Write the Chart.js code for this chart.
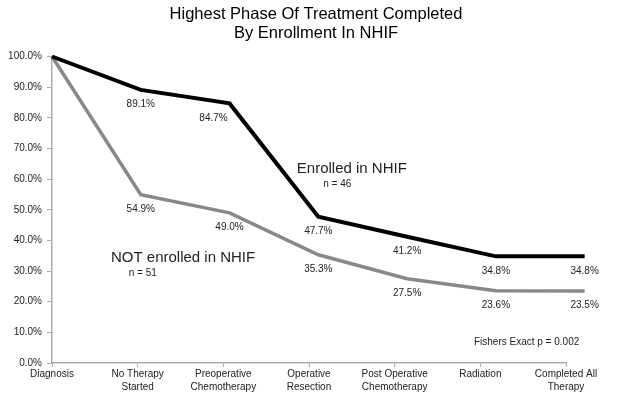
<!DOCTYPE html>
<html>
<head>
<meta charset="utf-8">
<script src="https://cdn.jsdelivr.net/npm/chart.js@4.4.1/dist/chart.umd.min.js"></script>
<style>
  html, body { margin: 0; padding: 0; background: #fff; }
  #wrap { width: 624px; height: 403px; }
</style>
</head>
<body>
<div id="wrap"><canvas id="grafica"></canvas></div>
<script>
// datos
var categorias = ['Diagnosis', ['No Therapy', 'Started'], ['Preoperative', 'Chemotherapy'], ['Operative', 'Resection'], ['Post Operative', 'Chemotherapy'], 'Radiation', ['Completed All', 'Therapy']];
var inscritos = [100, 89.1, 84.7, 47.7, 41.2, 34.8, 34.8];
var noInscritos = [100, 54.9, 49.0, 35.3, 27.5, 23.6, 23.5];
var yTicks = [0, 10, 20, 30, 40, 50, 60, 70, 80, 90, 100];
var titulo = ['Highest Phase Of Treatment Completed', 'By Enrollment In NHIF'];

// textos sueltos dentro del grafico (x en categorias, y en %)
var notas = [
    { texto: 'Enrolled in NHIF', x: 3.50, y: 63.4, size: 15 },
    { texto: 'n = 46', x: 3.33, y: 58.2, size: 10 },
    { texto: 'NOT enrolled in NHIF', x: 1.53, y: 34.4, size: 15 },
    { texto: 'n = 51', x: 1.06, y: 29.2, size: 10 },
    { texto: 'Fishers Exact p = 0.002', x: 5.54, y: 6.7, size: 10 }
];
// corrimiento horizontal de las etiquetas (px)
var corrimiento = [0, 0, -16, 0, 0, 0, 0];

var fuente = "'Liberation Sans', Arial, Helvetica, sans-serif";

function puntos(valores) {
    return valores.map(function (v, i) { return { x: i, y: v }; });
}

const etiquetas = {
    id: 'etiquetas',
    afterDatasetsDraw(chart) {
        const ctx = chart.ctx;
        ctx.save();
        ctx.fillStyle = '#222';
        ctx.textAlign = 'center';
        ctx.textBaseline = 'middle';
        ctx.font = '10px ' + fuente;
        chart.data.datasets.forEach(function (ds, d) {
            var meta = chart.getDatasetMeta(d);
            meta.data.forEach(function (p, i) {
                if (i == 0) return;
                ctx.fillText(ds.data[i].y.toFixed(1) + '%', p.x + corrimiento[i] * (d == 0 ? 1 : 0), p.y + 14.5);
            });
        });
        var sx = chart.scales.x, sy = chart.scales.y;
        notas.forEach(function (n) {
            ctx.font = n.size + 'px ' + fuente;
            ctx.fillText(n.texto, sx.getPixelForValue(n.x), sy.getPixelForValue(n.y));
        });
        // titulo centrado en todo el lienzo, no solo en el area del grafico
        ctx.fillStyle = '#000';
        ctx.font = '16.5px ' + fuente;
        for (var t = 0; t < titulo.length; t++) {
            ctx.fillText(titulo[t], chart.width / 2 + 4, 14 + t * 19);
        }
        ctx.restore();
    }
};

new Chart(document.getElementById('grafica'), {
    type: 'line',
    data: {
        datasets: [{
            label: 'Enrolled in NHIF',
            data: puntos(inscritos),
            xAxisID: 'xd',
            borderColor: '#000',
            borderWidth: 4,
            pointRadius: 0,
            tension: 0,
            clip: false
        }, {
            label: 'NOT enrolled in NHIF',
            data: puntos(noInscritos),
            xAxisID: 'xd',
            borderColor: '#888',
            borderWidth: 3.5,
            pointRadius: 0,
            tension: 0,
            clip: false
        }]
    },
    options: {
        responsive: true,
        maintainAspectRatio: false,
        animation: false,
        layout: { padding: { left: 0, right: 58, top: 56.5, bottom: 0 } },
        plugins: {
            legend: { display: false },
            tooltip: { enabled: false },
            title: { display: false }
        },
        scales: {
            x: {
                type: 'linear',
                min: 0,
                max: 6,
                afterFit: function (s) { s.height = 40; },
                afterBuildTicks: function (s) { s.ticks = categorias.map(function (c, i) { return { value: i }; }); },
                ticks: {
                    callback: function (v) { return categorias[v]; },
                    color: '#222',
                    font: { family: fuente, size: 10, lineHeight: 1.3 },
                    padding: 1,
                    maxRotation: 0,
                    autoSkip: false
                },
                grid: { drawOnChartArea: false, drawTicks: true, tickLength: 4, color: '#aaa' },
                border: { color: '#aaa', width: 1.5 }
            },
            // eje oculto de los datos, los puntos en la imagen van un poco mas abiertos que las marcas
            xd: {
                type: 'linear',
                display: false,
                min: 0,
                max: 5.79
            },
            y: {
                min: 0,
                max: 100,
                afterFit: function (s) { s.width = 52; },
                afterBuildTicks: function (s) { s.ticks = yTicks.map(function (v) { return { value: v }; }); },
                ticks: {
                    callback: function (v) { return v.toFixed(1) + '%'; },
                    color: '#222',
                    font: { family: fuente, size: 10 },
                    padding: 5
                },
                grid: { drawOnChartArea: false, drawTicks: true, tickLength: 5, color: '#aaa' },
                border: { color: '#aaa', width: 1.5 }
            }
        }
    },
    plugins: [etiquetas]
});
</script>
</body>
</html>
